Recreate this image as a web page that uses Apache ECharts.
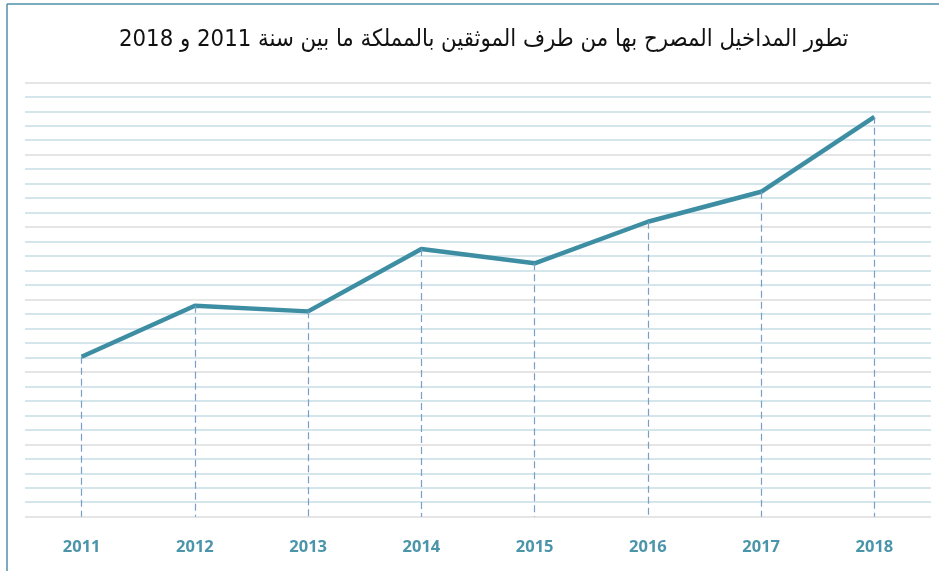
<!DOCTYPE html>
<html>
<head>
<meta charset="utf-8">
<script src="https://cdn.jsdelivr.net/npm/echarts@6/dist/echarts.min.js"></script>
<style>html,body{margin:0;padding:0;background:#fff}#c{width:939px;height:571px}</style>
</head>
<body>
<div id="c"></div>
<script>
const titleText = 'تطور المداخيل المصرح بها من طرف الموثقين بالمملكة ما بين سنة 2011 و 2018';
const years = ['2011','2012','2013','2014','2015','2016','2017','2018'];
const values = [11.05, 14.57, 14.18, 18.49, 17.50, 20.37, 22.44, 27.62];

const chart = echarts.init(document.getElementById('c'), null, {renderer:'canvas'});
chart.setOption({
  backgroundColor:'#ffffff',
  animation:false,
  title:{
    text:titleText,
    left:114,
    top:23,
    textStyle:{fontFamily:'DejaVu Sans Condensed, DejaVu Sans',fontSize:23.7,fontWeight:'normal',color:'#111111'}
  },
  graphic:[
    {type:'line',shape:{x1:7,y1:4,x2:939,y2:4},style:{stroke:'#4f8fa8',lineWidth:1.5},silent:true},
    {type:'line',shape:{x1:7,y1:4,x2:7,y2:571},style:{stroke:'#4f8fa8',lineWidth:1.5},silent:true}
  ],
  grid:{left:25,right:8,top:82.3,bottom:54.3},
  xAxis:{
    type:'category',
    data:years,
    boundaryGap:true,
    axisLine:{show:false},
    axisTick:{show:false},
    splitLine:{show:false},
    axisLabel:{color:'#4b95aa',fontWeight:'bold',fontSize:16.5,fontFamily:'Open Sans',margin:22}
  },
  yAxis:{
    type:'value',
    min:0,max:30,interval:1,
    axisLine:{show:false},
    axisTick:{show:false},
    axisLabel:{show:false},
    splitLine:{show:true,lineStyle:{width:1.5,color:['#dcdcdc','#c6dee6','#c6dee6','#c6dee6','#c6dee6']}}
  },
  series:[{
    type:'line',
    data:values,
    symbol:'none',
    lineStyle:{color:'#3d8ea3',width:4.5},
    z:3,
    markLine:{
      silent:true,
      symbol:['none','none'],
      label:{show:false},
      lineStyle:{type:[7,4],color:'#7a9fc6',width:1.2},
      data:values.map((v,i)=>[{coord:[i,v]},{coord:[i,0]}])
    }
  }]
});
</script>
</body>
</html>
